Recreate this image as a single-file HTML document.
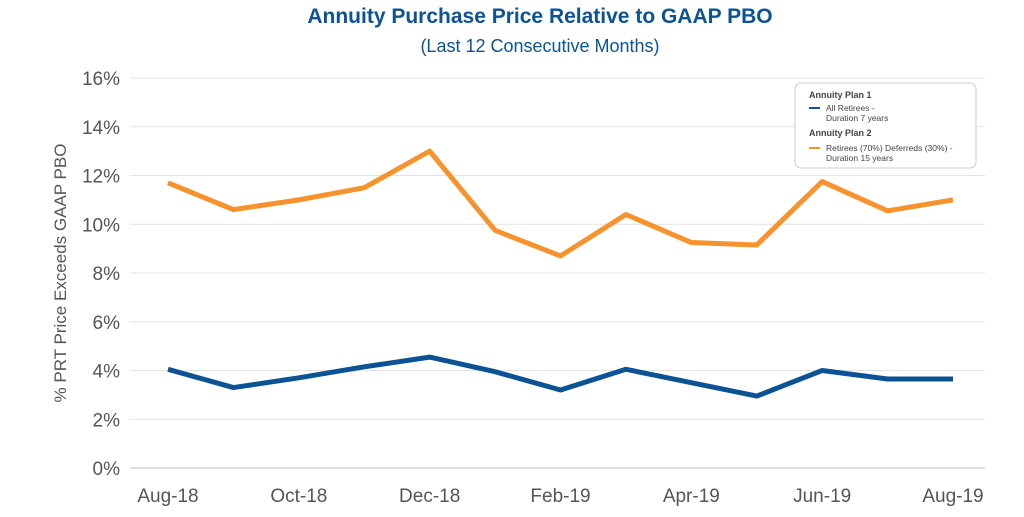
<!DOCTYPE html>
<html><head><style>
body{margin:0;background:#fff;font-family:"Liberation Sans",sans-serif}
svg text{font-family:"Liberation Sans",sans-serif}
</style></head><body>
<svg id="c" width="1024" height="512" viewBox="0 0 1024 512">
<text x="540" y="23" text-anchor="middle" font-size="21" font-weight="bold" fill="#0b5394">Annuity Purchase Price Relative to GAAP PBO</text>
<text x="540" y="52" text-anchor="middle" font-size="18" fill="#0b5394">(Last 12 Consecutive Months)</text>
<text transform="translate(66,273) rotate(-90)" text-anchor="middle" font-size="17" fill="#555">% PRT Price Exceeds GAAP PBO</text>
<g id="grid"></g><g id="lines"></g>
<g>
<rect x="795" y="83" width="181" height="85" rx="6" fill="#fff" stroke="#ccc"/>
<text x="809" y="98" font-size="9" font-weight="bold" fill="#444">Annuity Plan 1</text>
<line x1="809" y1="108" x2="820" y2="108" stroke="#0b5394" stroke-width="2"/>
<text x="826" y="111" font-size="8.5" fill="#444">All Retirees -</text>
<text x="826" y="121" font-size="8.5" fill="#444">Duration 7 years</text>
<text x="809" y="136" font-size="9" font-weight="bold" fill="#444">Annuity Plan 2</text>
<line x1="809" y1="148" x2="820" y2="148" stroke="#f7922d" stroke-width="2"/>
<text x="826" y="151" font-size="8.5" fill="#444">Retirees (70%) Deferreds (30%) -</text>
<text x="826" y="161" font-size="8.5" fill="#444">Duration 15 years</text>
</g>
</svg>
<script>
const months=["Aug-18","Sep-18","Oct-18","Nov-18","Dec-18","Jan-19","Feb-19","Mar-19","Apr-19","May-19","Jun-19","Jul-19","Aug-19"];
const plan2=[11.7,10.6,11.0,11.5,13.0,9.75,8.7,10.4,9.25,9.15,11.75,10.55,11.0];
const plan1=[4.05,3.3,3.7,4.15,4.55,3.95,3.2,4.05,3.5,2.95,4.0,3.65,3.65];
const yTicks=[0,2,4,6,8,10,12,14,16];
const NS="http://www.w3.org/2000/svg";
const x=i=>168+i*(953-168)/(months.length-1);
const y=v=>468-v*(468-78)/16;
const grid=document.getElementById('grid'),lines=document.getElementById('lines');
function el(t,a,p){const e=document.createElementNS(NS,t);for(const k in a)e.setAttribute(k,a[k]);p.appendChild(e);return e;}
yTicks.forEach(v=>{
 const l=el('line',{x1:130,x2:985,y1:y(v),y2:y(v),stroke:v===0?'#bbb':'#e3e3e3','stroke-width':1},grid);
 
 
 const t=el('text',{x:120,y:y(v)+7,'text-anchor':'end','font-size':19,fill:'#555'},grid);
 t.textContent=v+'%';
 
 
});
months.forEach((m,i)=>{ if(i%2) return;
 const t=el('text',{x:x(i),y:502,'text-anchor':'middle','font-size':19,fill:'#555'},grid);
 t.textContent=m;
 
 
});
[[plan2,'#f7922d','plan2-line'],[plan1,'#0b5394','plan1-line']].forEach(([d,c,n])=>{
 const p=el('polyline',{points:d.map((v,i)=>x(i)+','+y(v)).join(' '),fill:'none',stroke:c,'stroke-width':5,'stroke-linejoin':'round'},lines);
 
 
});
</script>
</body></html>
